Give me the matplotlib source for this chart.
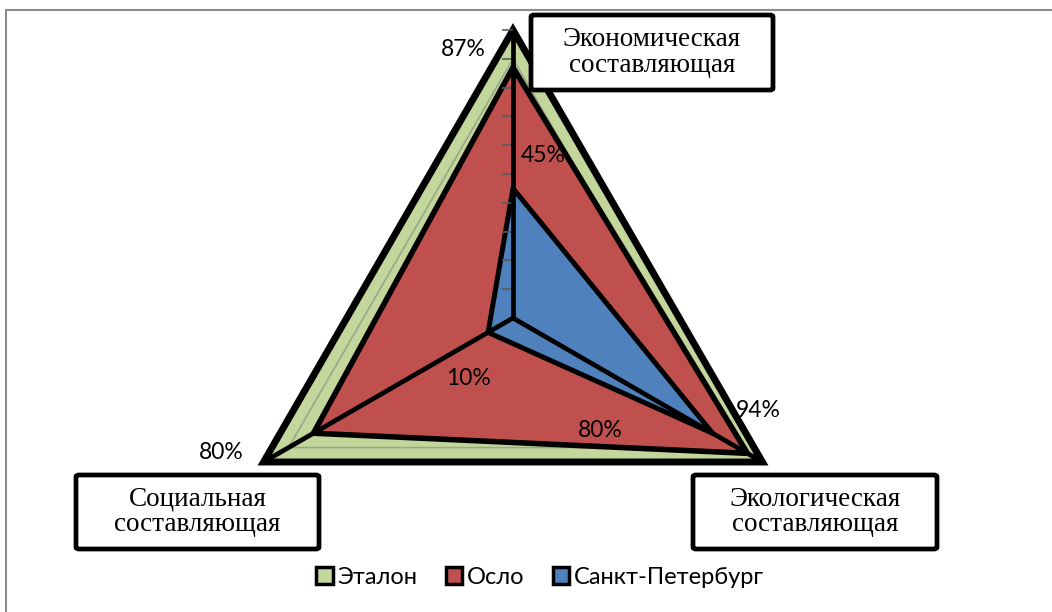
import numpy as np
import matplotlib.pyplot as plt
from matplotlib.patches import Patch, Rectangle, FancyBboxPatch

# ================ DATA ===================
categories = ['Экономическая\nсоставляющая', 'Экологическая\nсоставляющая', 'Социальная\nсоставляющая']
series_names = ['Эталон', 'Осло', 'Санкт-Петербург']
etalon = [1.00, 1.00, 1.00]
oslo = [0.87, 0.94, 0.80]
spb = [0.45, 0.80, 0.10]
colors = ['#C3D69B', '#C0504D', '#4F81BD']
rticks = [0.1, 0.2, 0.3, 0.4, 0.5, 0.6, 0.7, 0.8, 0.9, 1.0]

SANS = ['Lato', 'Open Sans', 'DejaVu Sans']
SERIF = ['Liberation Serif', 'DejaVu Serif']

W, H = 1052, 612
fig = plt.figure(figsize=(W / 100, H / 100), dpi=100)

# outer chart frame (only top and left edges inside the picture)
fig.add_artist(Rectangle((6 / W, -0.1), 1.2, (H - 10) / H + 0.1, transform=fig.transFigure,
                         fill=False, edgecolor='#8c8c8c', lw=1.5))

cx, cy, R = 513, 318, 288
ax = fig.add_axes([(cx - R) / W, (H - cy - R) / H, 2 * R / W, 2 * R / H], projection='polar')
ax.set_theta_offset(np.pi / 2)
ax.set_theta_direction(-1)
ax.set_ylim(0, 1)
ax.spines['polar'].set_visible(False)
ax.grid(False)
ax.patch.set_alpha(0)
ax.set_xticks([])
ax.set_yticks([])

angles = np.arange(3) * 2 * np.pi / 3
closed = np.r_[angles, angles[0]]

lws = [5.0, 4.0, 3.6]
for i, (vals, col) in enumerate(zip([etalon, oslo, spb], colors)):
    v = np.r_[vals, vals[0]]
    ax.fill(closed, v, facecolor=col, edgecolor='black', lw=lws[i], joinstyle='miter',
            zorder=1 + i * 0.1, clip_on=False)

# grid lines: only the part lying over the reference (green) area shows
for r in rticks[:-1]:
    ax.plot(closed, [r] * 4, color='#9aa88a', lw=1.2, zorder=1.05, clip_on=False)

# radial tick marks on the vertical axis
ax.plot([0] * len(rticks), rticks, ls='none', marker=0, markersize=8, mew=1.2,
        color='#5a5a5a', zorder=1.3, clip_on=False)

# axis lines
for a in angles:
    ax.plot([a, a], [0, 1], color='black', lw=3.4, zorder=1.4, clip_on=False,
            solid_capstyle='butt')

# data labels (Oslo and Saint Petersburg)
oslo_off = [(-50, 18), (11, 43), (-92, -19)]
spb_off = [(30, 33), (-112, 3), (-20, -46)]
for vals, offs in [(oslo, oslo_off), (spb, spb_off)]:
    for a, v, off in zip(angles, vals, offs):
        ax.annotate('%d%%' % round(v * 100), xy=(a, v), xytext=off, textcoords='offset pixels',
                    ha='center', va='center', fontsize=16.5, family=SANS, zorder=5,
                    annotation_clip=False)

# category boxes
boxes = [(531, 15, 242, 75), (693, 475, 244, 74), (76, 475, 243, 74)]
for (x, y, w, h), name in zip(boxes, categories):
    fig.add_artist(FancyBboxPatch((x / W, 1 - (y + h) / H), w / W, h / H,
                                  boxstyle='round,pad=0,rounding_size=0.003',
                                  transform=fig.transFigure, facecolor='white',
                                  edgecolor='black', lw=3.4, zorder=6))
    fig.text((x + w / 2) / W, 1 - (y + h / 2) / H, name, ha='center', va='center',
             fontsize=19.5, family=SERIF, linespacing=1.05, zorder=7)

handles = [Patch(facecolor=c, edgecolor='black', lw=2.5) for c in colors]
fig.legend(handles, series_names, loc='center', bbox_to_anchor=(540 / W, 1 - 577 / H),
           ncol=3, frameon=False, prop={'family': SANS, 'size': 17},
           handlelength=0.7, handleheight=0.7, handletextpad=0.2, columnspacing=1.2)

fig.savefig('out.png', dpi=100)
